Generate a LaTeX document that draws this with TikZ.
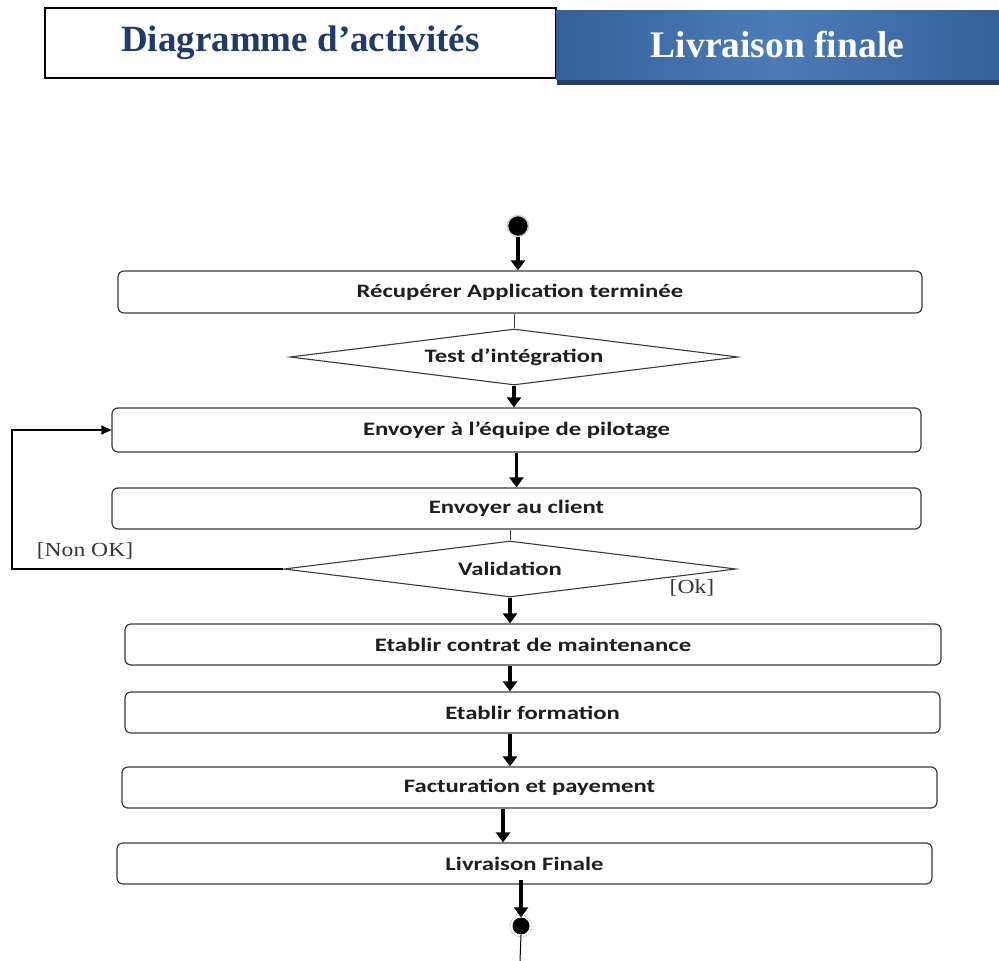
\documentclass[tikz,border=0pt]{standalone}
\usepackage{fontspec}
\setmainfont{Liberation Serif}
\newfontfamily\boxfont[FakeStretch=1.3]{Carlito}
\newfontfamily\guardfont[FakeStretch=1.18]{Liberation Serif}
\usetikzlibrary{shapes.geometric,arrows.meta}

\definecolor{titleblue}{HTML}{1F3A6B}
\definecolor{bandblue}{HTML}{36609A}
\definecolor{bandlight}{HTML}{4C7CB8}
\definecolor{banddark}{HTML}{243F66}
\definecolor{boxline}{HTML}{3A3A3A}
\definecolor{textdark}{HTML}{1E1E1E}
\definecolor{guardtext}{HTML}{3A3530}

\tikzset{
  actbox/.style={draw=boxline, line width=1.2pt, rounded corners=6pt, fill=white,
    inner sep=0pt, text=textdark,
    font=\boxfont\bfseries\fontsize{19}{22}\selectfont},
  decision/.style={diamond, draw=boxline, line width=1.1pt, fill=white, aspect=8,
    inner sep=0pt, text=textdark,
    font=\boxfont\bfseries\fontsize{19}{22}\selectfont},
  flow/.style={draw=black, line width=3.2pt, -{Triangle[length=10pt,width=14pt]}},
  plainlink/.style={draw=boxline, line width=1pt},
  looplink/.style={draw=black, line width=1.4pt, -{Triangle[length=10pt,width=9pt]}},
  guard/.style={text=guardtext, inner sep=0pt, font=\guardfont\fontsize{20}{22}\selectfont},
  startnode/.style={circle, fill=black, draw=gray!35, line width=1.5pt, inner sep=0pt, minimum size=21pt},
  stopnode/.style={circle, fill=black, inner sep=0pt, minimum size=17pt},
}

\begin{document}
\begin{tikzpicture}[x=1pt,y=-1pt]
\useasboundingbox (0,0) rectangle (999,961);

% ---- title banner ----
\node[draw=black, line width=1.3pt, minimum width=511pt, minimum height=70pt,
      inner sep=0pt, text=titleblue, font=\bfseries\fontsize{37}{40}\selectfont]
      (title) at (300.5,43) {Diagramme d’activités};
\fill[banddark] (557,14) rectangle (999,85);
\node[minimum width=443pt, minimum height=69pt, inner sep=0pt,
      left color=bandblue, right color=bandblue, middle color=bandlight,
      text=white, font=\bfseries\fontsize{37.5}{40}\selectfont]
      (phase) at (777.5,44.5) {Livraison finale};

% ---- activity flow ----
\node[startnode] (init) at (518,226) {};

\node[actbox, minimum width=804pt, minimum height=42pt] (b1) at (520,292)
  {Récupérer Application terminée};
\node[decision, minimum width=448pt, minimum height=56pt] (d1) at (514,357)
  {Test d’intégration};
\node[actbox, minimum width=809pt, minimum height=44pt] (b2) at (516.5,430)
  {Envoyer à l’équipe de pilotage};
\node[actbox, minimum width=809pt, minimum height=41pt] (b3) at (516.5,508.5)
  {Envoyer au client};
\node[decision, minimum width=452pt, minimum height=56pt] (d2) at (510,569)
  {Validation};
\node[actbox, minimum width=816pt, minimum height=41pt] (b4) at (533,644.5)
  {Etablir contrat de maintenance};
\node[actbox, minimum width=815pt, minimum height=41pt] (b5) at (532.5,712.5)
  {Etablir formation};
\node[actbox, minimum width=815pt, minimum height=41pt] (b6) at (529.5,787.5)
  {Facturation et payement};
\node[actbox, minimum width=815pt, minimum height=41pt] (b7) at (524.5,863.5)
  {Livraison Finale};

\node[stopnode] (fin) at (521,926) {};
\draw[gray!55, line width=0.9pt, densely dotted] (fin) circle (11pt);

% guards
\node[guard] (nok) at (85,551) {[Non OK]};
\node[guard] (ok) at (692,588) {[Ok]};

% helper columns
\coordinate (col7) at (503,0);
\coordinate (loopc) at (12,569);
\coordinate (bottom) at (520,961);

% ---- connectors ----
\draw[flow] (init) -- (init |- b1.north);
\draw[plainlink] (b1.south -| d1.north) -- (d1.north);
\draw[flow] (d1.south) -- (d1.south |- b2.north);
\draw[flow] (b2.south) -- (b3.north);
\draw[plainlink] (b3.south -| d2.north) -- (d2.north);
\draw[flow] (d2.south) -- (d2.south |- b4.north);
\draw[flow] (b4.south -| d2.south) -- (b5.north -| d2.south);
\draw[flow] (b5.south -| d2.south) -- (b6.north -| d2.south);
\draw[flow] (b6.south -| col7) -- (b7.north -| col7);
\draw[flow] ([yshift=5pt]b7.south -| fin) -- (fin.north);
\draw[looplink] (d2.west) -- (loopc) |- (b2.west);
\draw[plainlink, draw=black] (fin.south) -- (bottom);
\draw[plainlink, draw=black, line width=1.3pt] ([xshift=-17pt,yshift=-2pt]bottom) -- ([xshift=14pt,yshift=-2pt]bottom);

\end{tikzpicture}
\end{document}
